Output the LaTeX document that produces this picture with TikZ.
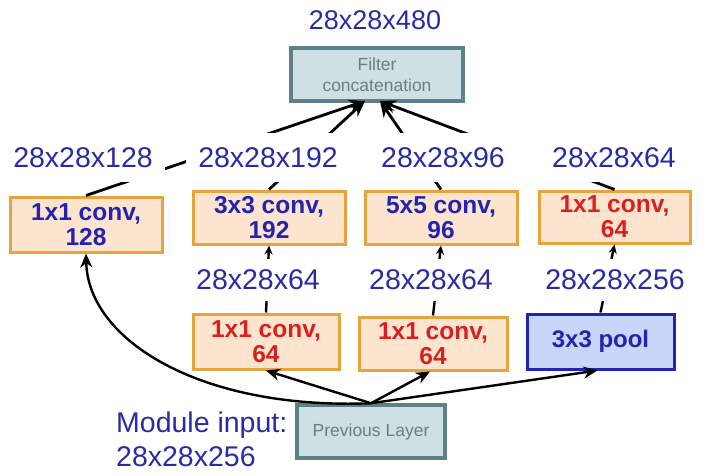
\documentclass[tikz,border=0pt]{standalone}
\usepackage{fontspec}
\setmainfont{Liberation Sans}
\usetikzlibrary{arrows.meta}
\definecolor{lblue}{RGB}{42,42,165}
\definecolor{bblue}{RGB}{35,35,175}
\definecolor{bred}{RGB}{215,32,32}
\definecolor{oborder}{RGB}{232,162,62}
\definecolor{ofill}{RGB}{253,228,206}
\definecolor{tborder}{RGB}{94,128,136}
\definecolor{tfill}{RGB}{206,224,228}
\definecolor{ttext}{RGB}{110,125,128}
\definecolor{pborder}{RGB}{35,35,185}
\definecolor{pfill}{RGB}{200,214,250}
\tikzset{
  convbox/.style={draw=oborder, fill=ofill, line width=3pt, align=center, inner sep=0pt,
    font=\fontsize{24.5}{25}\selectfont\bfseries},
  poolbox/.style={draw=pborder, fill=pfill, line width=3pt, align=center, inner sep=0pt,
    font=\fontsize{24}{25}\selectfont\bfseries, text=bblue},
  grybox/.style={draw=tborder, fill=tfill, line width=3.5pt, align=center, inner sep=0pt,
    text=ttext, font=\fontsize{17.5}{21}\selectfont},
  dimlbl/.style={fill=white, text=lblue, font=\fontsize{28.5}{30}\selectfont, inner xsep=12pt,
    inner ysep=0pt, minimum height=49pt},
  dimlblb/.style={dimlbl, minimum height=42pt, inner xsep=8pt},
  bigarr/.style={line width=2.8pt, -{Stealth[length=16pt,width=13pt]}},
  midarr/.style={line width=2.4pt, -{Stealth[length=14pt,width=12pt]}},
  smallarr/.style={line width=2.4pt, -{Stealth[length=9pt,width=8pt]}},
}
\begin{document}
\begin{tikzpicture}[x=1pt,y=-1pt]
\useasboundingbox (0,0) rectangle (720,476);
% boxes
\node[grybox, minimum width=172pt, minimum height=53pt] (filt) at (377,74.5) {Filter\\concatenation};
\node[convbox, text=bblue, minimum width=152pt, minimum height=55pt] (c128) at (86,224.5) {1x1 conv,\\128};
\node[convbox, text=bblue, minimum width=152pt, minimum height=53pt] (c192) at (269,217.5) {3x3 conv,\\192};
\node[convbox, text=bblue, minimum width=152pt, minimum height=53pt] (c96) at (441,217.5) {5x5 conv,\\96};
\node[convbox, text=bred, minimum width=151pt, minimum height=52pt] (c64) at (614.5,217) {1x1 conv,\\64};
\node[convbox, text=bred, minimum width=146pt, minimum height=55pt] (r1) at (266,341.5) {1x1 conv,\\64};
\node[convbox, text=bred, minimum width=148pt, minimum height=53pt] (r2) at (433,343.5) {1x1 conv,\\64};
\node[poolbox, minimum width=147pt, minimum height=55pt] (pool) at (600.5,341.5) {3x3 pool};
\node[grybox, minimum width=148pt, minimum height=53pt] (prev) at (371,431.5) {Previous Layer};
% endpoints on the filter box
\coordinate (fa) at (365,101);
\coordinate (fb) at (380,101);
% connectors to filter concatenation
\draw[bigarr] (c128.north) -- (fa);
\draw[bigarr] (c192.north) -- (fa);
\draw[bigarr] (c96.north) -- (fb);
\draw[bigarr] (c64.north) -- (fb);
% second row verticals
\draw[smallarr] (r1.north) -- (c192.south);
\draw[smallarr] (r2.north) -- (c96.south);
\draw[smallarr] (pool.north) -- (c64.south);
% from previous layer
\draw[midarr] (prev.north) .. controls (200,410) and (88,340) .. (c128.south);
\draw[midarr] (prev.north) -- (r1.south);
\draw[midarr] (prev.north) -- ([xshift=-3pt]r2.south);
\draw[midarr] (prev.north) -- ([xshift=-3pt]pool.south);
% labels
\node[text=lblue, font=\fontsize{27}{30}\selectfont] (l480) at (375,20) {28x28x480};
\node[dimlbl] (l128) at (83,157.5) {28x28x128};
\node[dimlbl] (l192) at (268,157.5) {28x28x192};
\node[dimlbl, inner xsep=24pt] (l96) at (443,157.5) {28x28x96};
\node[dimlbl, inner xsep=24pt] (l64) at (614,157.5) {28x28x64};
\node[dimlblb] (l64b) at (258,280) {28x28x64};
\node[dimlblb] (l64c) at (431,280) {28x28x64};
\node[dimlblb] (l256) at (615,280) {28x28x256};
\node[text=lblue, font=\fontsize{28.5}{34}\selectfont, align=left, anchor=west, inner sep=0pt] (modin) at (116,439) {Module input:\\28x28x256};
\end{tikzpicture}
\end{document}
